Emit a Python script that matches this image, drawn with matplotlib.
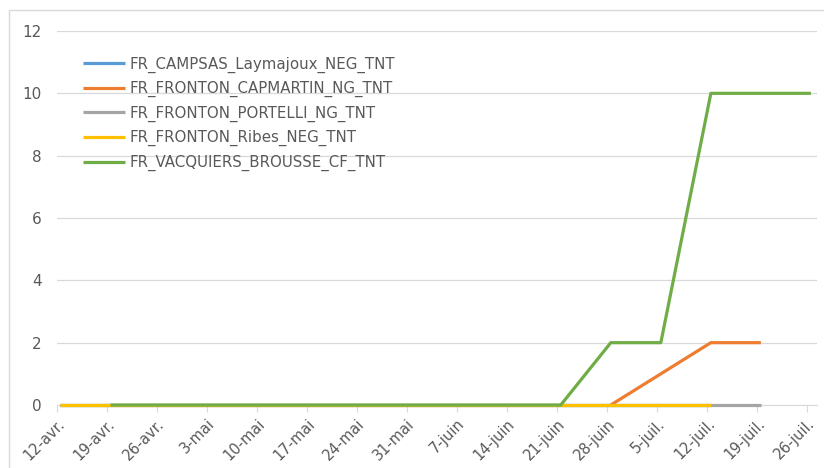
import numpy as np
import pandas as pd
import matplotlib
matplotlib.use('Agg')
import matplotlib.pyplot as plt
from matplotlib.patches import Rectangle

# weekly points, 12 Apr -> 26 Jul 2021 (Excel places them mid-day)
dates = pd.date_range('2021-04-12 12:00', '2021-07-26 12:00', freq='7D')
nan = np.nan

names = ['FR_CAMPSAS_Laymajoux_NEG_TNT', 'FR_FRONTON_CAPMARTIN_NG_TNT',
         'FR_FRONTON_PORTELLI_NG_TNT', 'FR_FRONTON_Ribes_NEG_TNT',
         'FR_VACQUIERS_BROUSSE_CF_TNT']
colors = ['#5B9BD5', '#ED7D31', '#A5A5A5', '#FFC000', '#70AD47']

campsas = [0, 0, 0, 0, 0, 0, 0, 0, 0, 0, 0, 0, 0, 0, nan, nan]
capmartin = [nan, nan, nan, nan, nan, nan, nan, nan, nan, nan, nan, 0, 1, 2, 2, nan]
portelli = [0, 0, 0, 0, 0, 0, 0, 0, 0, 0, 0, 0, 0, 0, 0, nan]
ribes = [0, 0, 0, 0, 0, 0, 0, 0, 0, 0, 0, 0, 0, 0, nan, nan]
vacquiers = [nan, 0, 0, 0, 0, 0, 0, 0, 0, 0, 0, 2, 2, 10, 10, 10]
series = [campsas, capmartin, portelli, ribes, vacquiers]

tick_labels = ['12-avr.', '19-avr.', '26-avr.', '3-mai', '10-mai', '17-mai', '24-mai',
               '31-mai', '7-juin', '14-juin', '21-juin', '28-juin', '5-juil.',
               '12-juil.', '19-juil.', '26-juil.']
tick_dates = pd.date_range('2021-04-12', '2021-07-26', freq='7D')

fig = plt.figure(figsize=(8.24, 4.68), dpi=100)
ax = fig.add_axes([0.069, 0.1346, 0.922, 0.7992])

for name, vals, c in zip(names, series, colors):
    ax.plot(dates, vals, color=c, lw=2.3, label=name, solid_capstyle='butt',
            clip_on=False, zorder=3)

ax.set_xlim(pd.Timestamp('2021-04-12'), pd.Timestamp('2021-07-27 07:00'))
ax.set_ylim(0, 12)
ax.set_yticks(range(0, 13, 2))
ax.yaxis.grid(True, color='#D9D9D9', lw=0.9)
ax.set_axisbelow(True)
ax.set_xticks(tick_dates)
ax.set_xticklabels(tick_labels, rotation=45, ha='right', rotation_mode='anchor')

for s in ['top', 'right', 'left']:
    ax.spines[s].set_visible(False)
ax.spines['bottom'].set_color('#D9D9D9')
ax.tick_params(axis='y', length=0, pad=11, labelsize=11, labelcolor='#595959')
ax.tick_params(axis='x', length=5, color='#D9D9D9', labelsize=10.5, labelcolor='#595959', pad=3)

leg = ax.legend(loc='upper left', bbox_to_anchor=(0.016, 0.968), frameon=False,
                fontsize=10.8, handlelength=2.8, handletextpad=0.3, labelspacing=0.56)
for t in leg.get_texts():
    t.set_color('#595959')

fig.patches.append(Rectangle((9 / 824, -0.01), 1.0, 1 - 10 / 468 + 0.01, transform=fig.transFigure,
                             fill=False, edgecolor='#D9D9D9', lw=1.0))

fig.savefig('out.png', dpi=100)
